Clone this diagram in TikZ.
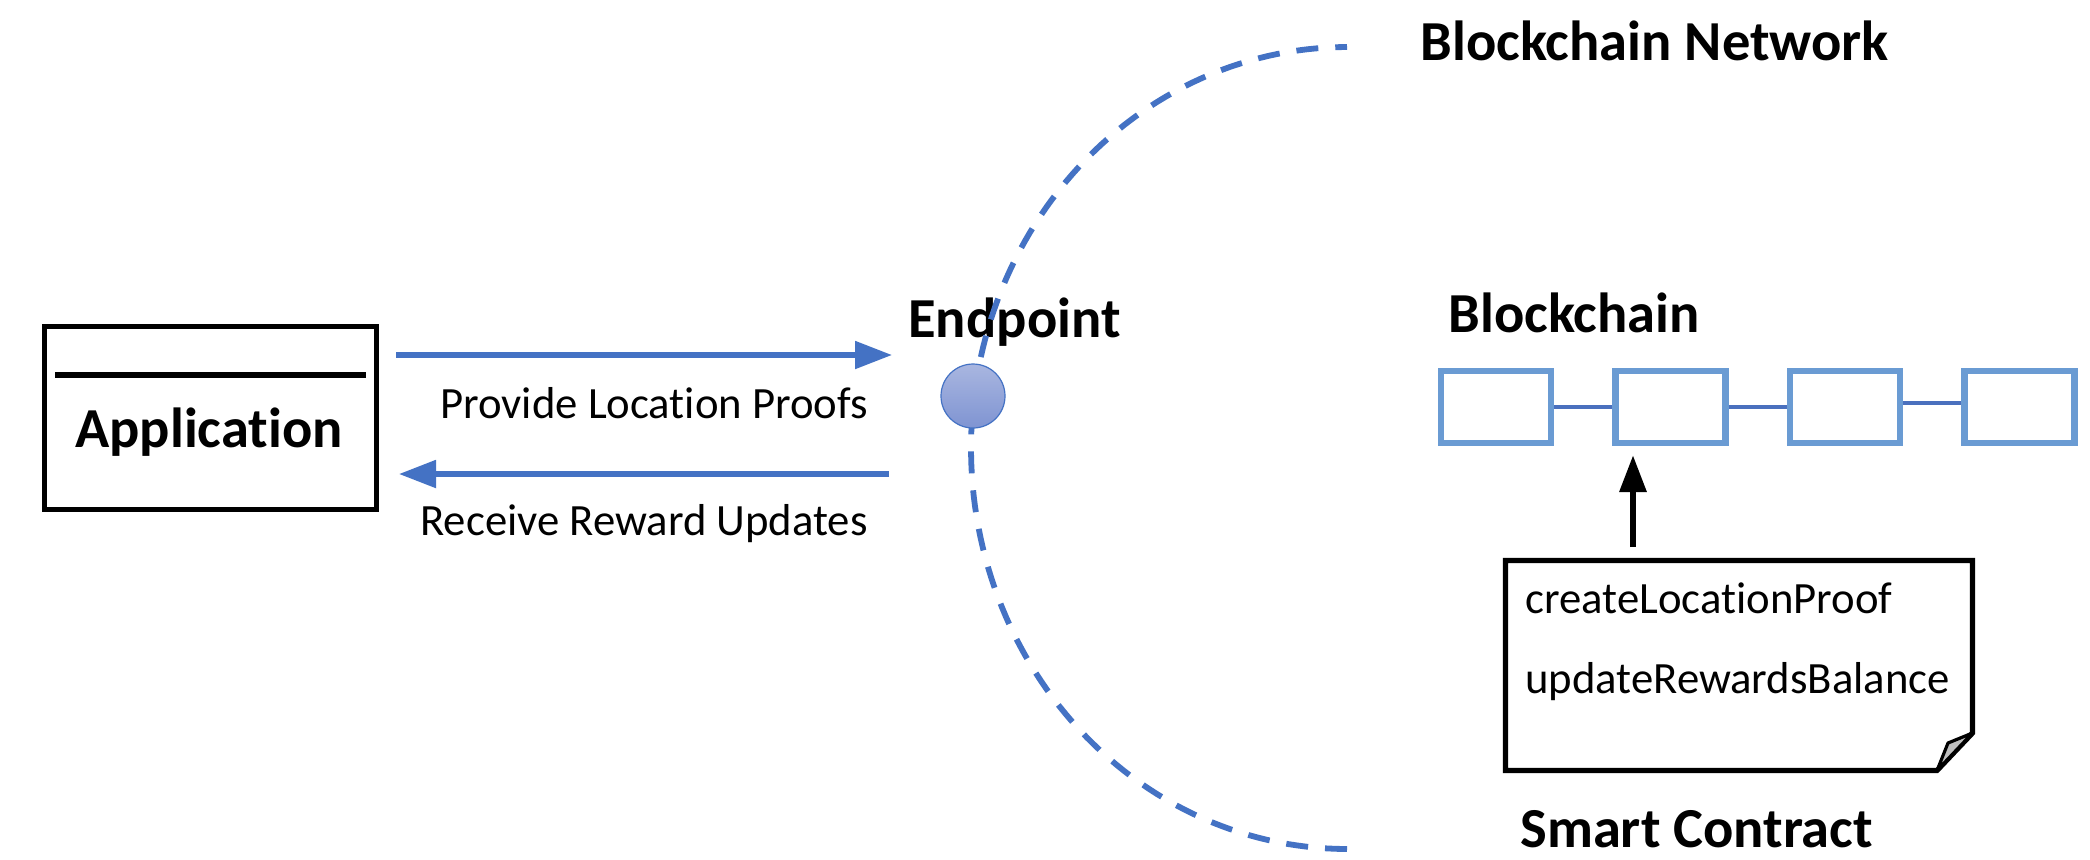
\documentclass[tikz,border=0pt]{standalone}
\usepackage{fontspec}
\setmainfont{Carlito}[Ligatures={NoCommon}]
\usetikzlibrary{arrows.meta,calc}

\definecolor{flowblue}{HTML}{4472C4}
\definecolor{chainblue}{HTML}{6A9BD3}
\definecolor{linkblue}{HTML}{4A70BE}
\definecolor{dotlight}{HTML}{A9B6E0}
\definecolor{dotdark}{HTML}{7F94D2}
\definecolor{foldgray}{HTML}{BFBFBF}

% keep "t" and "i" as separate glyphs
\newcommand{\tisep}{t\kern0pt i}

\tikzset{
  heading/.style={font=\fontsize{28.25}{34}\selectfont\bfseries, inner sep=0pt},
  plaintext/.style={font=\fontsize{22.35}{27}\selectfont, inner sep=0pt, anchor=base west},
  flow/.style={draw=flowblue, line width=2.6pt, -{Triangle[length=18.5pt,width=13.5pt]}},
  block/.style={draw=chainblue, line width=3.1pt, minimum width=55pt, minimum height=36pt, inner sep=0pt},
  chainlink/.style={draw=linkblue, line width=2.3pt},
  netedge/.style={draw=flowblue, line width=2.9pt, dash pattern=on 11pt off 8.5pt},
  callarrow/.style={draw=black, line width=3.2pt, -{Triangle[length=18.5pt,width=13pt]}},
}

\begin{document}
\begin{tikzpicture}[x=0.5pt,y=-0.5pt]
  \useasboundingbox (0,0) rectangle (2090,859);
  \fill[white] (0,0) rectangle (2090,859);

  % application box with its header rule
  \node[draw, line width=2.6pt, minimum width=166pt, minimum height=91.5pt, inner sep=0pt] (app) at (210.5,418) {};
  \draw[line width=2.6pt] (55,375) -- (366,375);
  \node[heading, anchor=base] (apptext) at (209,447) {Applica\tisep on};

  % request / response flows
  \coordinate (provA) at (396,355);
  \coordinate (provB) at (892,355);
  \coordinate (recvA) at (889,474);
  \coordinate (recvB) at (399,474);
  \draw[flow] (provA) -- (provB);
  \draw[flow] (recvA) -- (recvB);
  \node[plaintext] (provtext) at (440,418) {Provide Loca\tisep on Proofs};
  \node[plaintext] (recvtext) at (420,535) {Receive Reward Updates};

  % endpoint and network boundary
  \node[heading, anchor=base west] (eptext) at (908,337) {Endpoint};
  \draw[netedge] plot[domain=90:270, samples=120] ({1347+376*cos(\x)}, {448+401*sin(\x)});
  \node[circle, draw=flowblue, line width=0.6pt, top color=dotlight, bottom color=dotdark,
        minimum size=32pt, inner sep=0pt] (ep) at (973,396) {};
  \node[heading, anchor=base west] (nettext) at (1420,60) {Blockchain Network};

  % the chain of blocks
  \node[heading, anchor=base west] (chaintext) at (1448,332) {Blockchain};
  \node[block] (b1) at (1496,407) {};
  \node[block] (b2) at (1670.5,407) {};
  \node[block] (b3) at (1845,407) {};
  \node[block] (b4) at (2019.5,407) {};
  \draw[chainlink] (b1) -- (b2);
  \draw[chainlink] (b2) -- (b3);
  \draw[chainlink] ([yshift=2pt]b3.east) -- ([yshift=2pt]b4.west);

  % smart contract note with folded corner
  \node[minimum width=233.5pt, minimum height=105pt, inner sep=0pt, outer sep=0pt, anchor=north west] (note) at (1505.5,560.5) {};
  \draw[line width=2.6pt, line join=miter]
    (note.north west) -- (note.north east) -- ([yshift=18.75pt]note.south east)
    -- ([xshift=-17.75pt]note.south east) -- (note.south west) -- cycle;
  \filldraw[fill=foldgray, line width=1.6pt, line join=round]
    ([xshift=-17.75pt]note.south east) -- ([yshift=18.75pt]note.south east)
    -- ([xshift=-12.25pt,yshift=13.75pt]note.south east) -- cycle;
  \node[plaintext] (fn1) at (1525,613) {createLoca\tisep onProof};
  \node[plaintext] (fn2) at (1525,693) {updateRewardsBalance};
  \node[heading, anchor=base west] (sctext) at (1520,847) {Smart Contract};

  % contract writes into the chain
  \coordinate (hook) at (1633,547);
  \draw[callarrow, shorten >=4.5pt] (hook) -- (hook |- b2.south);
\end{tikzpicture}
\end{document}
